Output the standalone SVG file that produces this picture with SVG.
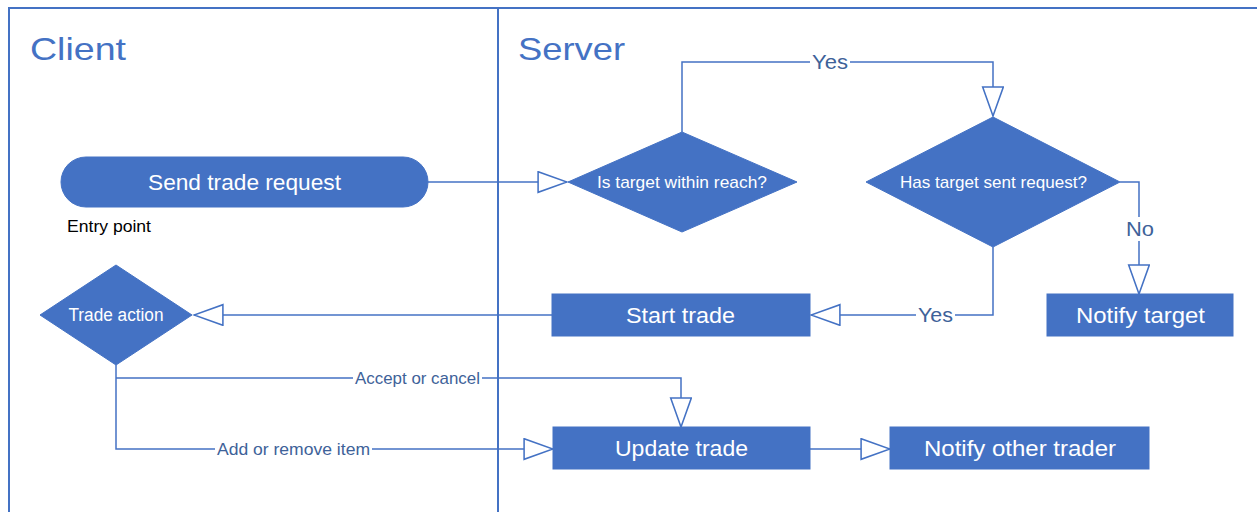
<svg xmlns="http://www.w3.org/2000/svg" width="1257" height="512" viewBox="0 0 1257 512">
  <style>
    .lane { fill: none; stroke: #4472C4; stroke-width: 2; }
    .title { font-family: "Liberation Sans", Arial, sans-serif; font-size: 32px; fill: #4472C4; }
    .shape { fill: #4472C4; stroke: #4472C4; stroke-width: 1; }
    .ntext { font-family: "Liberation Sans", Arial, sans-serif; fill: #FFFFFF; text-anchor: middle; dominant-baseline: central; }
    .conn { fill: none; stroke: #4472C4; stroke-width: 1.5; marker-end: url(#hollow); }
    .plain { fill: none; stroke: #4472C4; stroke-width: 1.5; }
    .lbl { font-family: "Liberation Sans", Arial, sans-serif; fill: #3E6299; text-anchor: middle; dominant-baseline: central; }
    .lblbg { fill: #FFFFFF; }
  </style>
  <defs>
    <marker id="hollow" markerUnits="userSpaceOnUse" markerWidth="32" markerHeight="24" viewBox="-1 -1 31 23" refX="28" refY="10" orient="auto">
      <path d="M0,0 L28,10 L0,20 Z" fill="#FFFFFF" stroke="#4472C4" stroke-width="1.5"/>
    </marker>
  </defs>

  <rect width="1257" height="512" fill="#FFFFFF"/>

  <!-- swimlanes -->
  <g id="lanes">
    <path class="lane" d="M9,512 V8 H1257"/>
    <path class="lane" d="M498,8 V512"/>
    <text class="title" x="30" y="60" textLength="96" lengthAdjust="spacingAndGlyphs">Client</text>
    <text class="title" x="518" y="60" textLength="107" lengthAdjust="spacingAndGlyphs">Server</text>
  </g>

  <!-- connectors -->
  <g id="connectors">
    <path class="conn" d="M428,182 H567"/>
    <path class="conn" d="M682,132 V62 H993 V116"/>
    <path class="conn" d="M1120,182 H1139 V294"/>
    <path class="conn" d="M993,247 V315 H811"/>
    <path class="conn" d="M552,315 H194"/>
    <path class="plain" d="M116,365 V378"/>
    <path class="conn" d="M116,378 H681 V427"/>
    <path class="conn" d="M116,378 V449 H553"/>
    <path class="conn" d="M810,449 H890"/>

    <rect class="lblbg" x="810" y="50" width="40" height="24"/>
    <text class="lbl" x="830" y="62" font-size="20" textLength="36" lengthAdjust="spacingAndGlyphs">Yes</text>
    <rect class="lblbg" x="1124" y="217" width="32" height="24"/>
    <text class="lbl" x="1140" y="229" font-size="20" textLength="28" lengthAdjust="spacingAndGlyphs">No</text>
    <rect class="lblbg" x="916" y="303" width="39" height="24"/>
    <text class="lbl" x="935.5" y="315" font-size="20" textLength="35" lengthAdjust="spacingAndGlyphs">Yes</text>
    <rect class="lblbg" x="353" y="368" width="129" height="20"/>
    <text class="lbl" x="417.5" y="378" font-size="17" textLength="125" lengthAdjust="spacingAndGlyphs">Accept or cancel</text>
    <rect class="lblbg" x="215" y="439" width="157" height="20"/>
    <text class="lbl" x="293.5" y="449" font-size="17" textLength="153" lengthAdjust="spacingAndGlyphs">Add or remove item</text>
  </g>

  <g id="send-request">
    <rect class="shape" x="61" y="157" width="367" height="50" rx="25" ry="25"/>
    <text class="ntext" x="244.5" y="182" font-size="22" textLength="193" lengthAdjust="spacingAndGlyphs">Send trade request</text>
  </g>

  <g id="entry-point">
    <text x="67" y="232" font-family="Liberation Sans, Arial, sans-serif" font-size="16.5" fill="#000000" textLength="84" lengthAdjust="spacingAndGlyphs">Entry point</text>
  </g>

  <g id="within-reach">
    <polygon class="shape" points="568,182 682,132 797,182 682,232"/>
    <text class="ntext" x="682" y="182" font-size="17" textLength="170" lengthAdjust="spacingAndGlyphs">Is target within reach?</text>
  </g>

  <g id="sent-request">
    <polygon class="shape" points="866,182 993,117 1120,182 993,247"/>
    <text class="ntext" x="993.5" y="182" font-size="17" textLength="187" lengthAdjust="spacingAndGlyphs">Has target sent request?</text>
  </g>

  <g id="notify-target">
    <rect class="shape" x="1047" y="294" width="186" height="42"/>
    <text class="ntext" x="1140.5" y="315" font-size="22" textLength="129" lengthAdjust="spacingAndGlyphs">Notify target</text>
  </g>

  <g id="start-trade">
    <rect class="shape" x="552" y="294" width="258" height="42"/>
    <text class="ntext" x="680.5" y="315" font-size="22" textLength="109" lengthAdjust="spacingAndGlyphs">Start trade</text>
  </g>

  <g id="trade-action">
    <polygon class="shape" points="40,315 116,265 192,315 116,365"/>
    <text class="ntext" x="116" y="315" font-size="18" textLength="95" lengthAdjust="spacingAndGlyphs">Trade action</text>
  </g>

  <g id="update-trade">
    <rect class="shape" x="553" y="427" width="257" height="42"/>
    <text class="ntext" x="681.5" y="448" font-size="22" textLength="133" lengthAdjust="spacingAndGlyphs">Update trade</text>
  </g>

  <g id="notify-other">
    <rect class="shape" x="890" y="427" width="259" height="42"/>
    <text class="ntext" x="1020" y="448" font-size="22" textLength="192" lengthAdjust="spacingAndGlyphs">Notify other trader</text>
  </g>
</svg>
